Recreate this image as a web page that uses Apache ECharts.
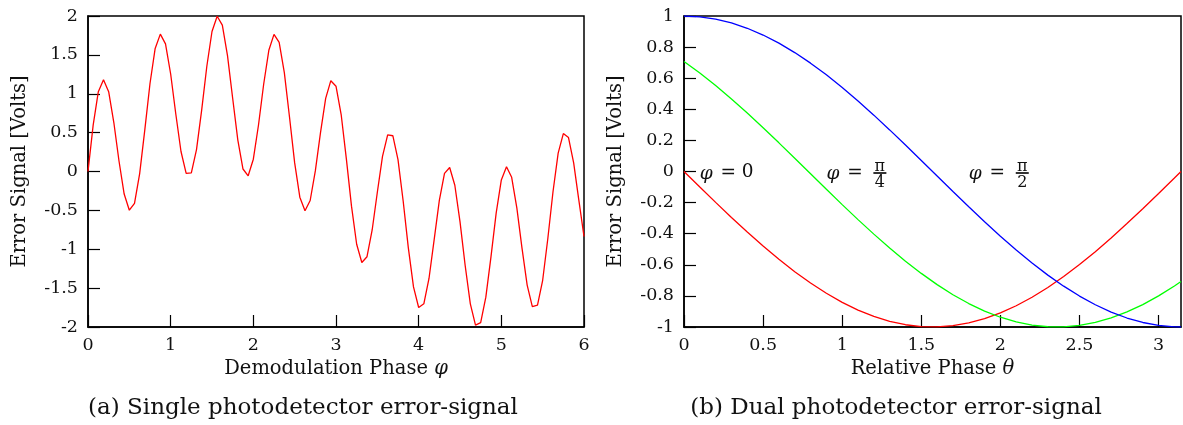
<!DOCTYPE html>
<html>
<head>
<meta charset="utf-8">
<script src="https://cdn.jsdelivr.net/npm/echarts@6/dist/echarts.min.js"></script>
<style>
html,body{margin:0;padding:0;background:#fff;}
#c{width:1183px;height:425px;}
</style>
</head>
<body>
<div id="c"></div>
<script>
// ---- Panel (a): single photodetector error signal ----
const phiA = [0,0.0625,0.125,0.1875,0.25,0.3125,0.375,0.4375,0.5,0.5625,0.625,0.6875,0.75,0.8125,0.875,0.9375,
  1,1.0625,1.125,1.1875,1.25,1.3125,1.375,1.4375,1.5,1.5625,1.625,1.6875,1.75,1.8125,1.875,1.9375,
  2,2.0625,2.125,2.1875,2.25,2.3125,2.375,2.4375,2.5,2.5625,2.625,2.6875,2.75,2.8125,2.875,2.9375,
  3,3.0625,3.125,3.1875,3.25,3.3125,3.375,3.4375,3.5,3.5625,3.625,3.6875,3.75,3.8125,3.875,3.9375,
  4,4.0625,4.125,4.1875,4.25,4.3125,4.375,4.4375,4.5,4.5625,4.625,4.6875,4.75,4.8125,4.875,4.9375,
  5,5.0625,5.125,5.1875,5.25,5.3125,5.375,5.4375,5.5,5.5625,5.625,5.6875,5.75,5.8125,5.875,5.9375,6];
const errA = [0,0.596,1.027,1.180,1.026,0.630,0.135,-0.290,-0.498,-0.409,-0.027,0.539,1.132,1.583,1.767,1.641,
  1.254,0.736,0.257,-0.025,-0.019,0.282,0.790,1.354,1.801,1.997,1.882,1.491,0.942,0.404,0.032,-0.055,
  0.158,0.598,1.122,1.559,1.764,1.662,1.272,0.701,0.110,-0.330,-0.504,-0.373,0.008,0.501,0.940,1.168,
  1.097,0.733,0.166,-0.446,-0.936,-1.170,-1.096,-0.752,-0.267,0.194,0.470,0.460,0.152,-0.379,-0.982,-1.484,
  -1.749,-1.702,-1.376,-0.877,-0.371,-0.024,0.051,-0.177,-0.644,-1.209,-1.702,-1.975,-1.944,-1.616,-1.094,-0.535,
  -0.108,0.060,-0.075,-0.467,-0.985,-1.461,-1.738,-1.719,-1.399,-0.862,-0.260,0.236,0.488,0.436,0.111,-0.369,-0.836];

// ---- Panel (b): dual photodetector error signal ----
const thetaB = [0,0.1,0.2,0.3,0.4,0.5,0.6,0.7,0.8,0.9,1.0,1.1,1.2,1.3,1.4,1.5,1.6,1.7,1.8,1.9,2.0,
  2.1,2.2,2.3,2.4,2.5,2.6,2.7,2.8,2.9,3.0,3.1,3.1416];
const errPhi0 = [0,-0.0998,-0.1987,-0.2955,-0.3894,-0.4794,-0.5646,-0.6442,-0.7174,-0.7833,-0.8415,-0.8912,
  -0.9320,-0.9636,-0.9854,-0.9975,-0.9996,-0.9917,-0.9738,-0.9463,-0.9093,-0.8632,-0.8085,-0.7457,-0.6755,
  -0.5985,-0.5155,-0.4274,-0.3350,-0.2392,-0.1411,-0.0416,0];
const errPhiQ = [0.7071,0.6330,0.5525,0.4665,0.3760,0.2816,0.1843,0.0853,-0.0146,-0.1143,-0.2130,-0.3094,
  -0.4028,-0.4922,-0.5766,-0.6553,-0.7275,-0.7923,-0.8492,-0.8977,-0.9372,-0.9673,-0.9878,-0.9984,-0.9991,
  -0.9897,-0.9704,-0.9415,-0.9031,-0.8557,-0.7998,-0.7359,-0.7071];
const errPhiH = [1,0.9950,0.9801,0.9553,0.9211,0.8776,0.8253,0.7648,0.6967,0.6216,0.5403,0.4536,0.3624,
  0.2675,0.1700,0.0707,-0.0292,-0.1288,-0.2272,-0.3233,-0.4161,-0.5048,-0.5885,-0.6663,-0.7374,-0.8011,
  -0.8569,-0.9041,-0.9422,-0.9710,-0.9900,-0.9991,-1];

// curve annotations: phi = 0, phi = pi/4, phi = pi/2
const annTheta = [0.1, 0.9, 1.8];
const annVal = [0, 0, 0];
const annNum = ['0', 'π', 'π'];
const annDen = ['', '4', '2'];

const captions = ['(a) Single photodetector error-signal', '(b) Dual photodetector error-signal'];
const xNames = ['Demodulation Phase {it|φ}', 'Relative Phase {it|θ}'];
const yName = 'Error Signal [Volts]';

const FONT = 'DejaVu Serif';
const TXT = '#111';

function pairs(xs, ys){ return xs.map((x,i)=>[x, ys[i]]); }

function xAx(idx, min, max, interval, name){
  return {
    type:'value', gridIndex: idx, min:min, max:max, interval:interval,
    name:name, nameLocation:'middle', nameGap:28,
    nameTextStyle:{fontFamily:FONT, fontSize:19.5, color:TXT,
      rich:{it:{fontFamily:FONT, fontSize:19.5, fontStyle:'italic', color:TXT}}},
    axisLine:{show:true, onZero:false, lineStyle:{color:'#000', width:1.5}},
    axisTick:{show:true, inside:true, length:12, lineStyle:{color:'#000', width:1.2}},
    axisLabel:{fontFamily:FONT, fontSize:17.5, color:TXT, margin:9, showMaxLabel: idx===0,
      formatter: v => (Math.abs(v/interval - Math.round(v/interval))<1e-6 ? String(+v.toFixed(2)) : '')},
    splitLine:{show:false}
  };
}
function yAx(idx, min, max, interval){
  return {
    type:'value', gridIndex: idx, min:min, max:max, interval:interval,
    name:yName, nameLocation:'middle', nameGap:58, nameRotate:90,
    nameTextStyle:{fontFamily:FONT, fontSize:19.5, color:TXT},
    axisLine:{show:true, onZero:false, lineStyle:{color:'#000', width:1.5}},
    axisTick:{show:true, inside:true, length:12, lineStyle:{color:'#000', width:1.2}},
    axisLabel:{fontFamily:FONT, fontSize:17.5, color:TXT, margin:10,
      formatter: v => String(+v.toFixed(2))},
    splitLine:{show:false}
  };
}

const chart = echarts.init(document.getElementById('c'), null, {renderer:'canvas'});
chart.setOption({
  animation:false,
  backgroundColor:'#fff',
  grid:[
    {left:88, top:16, width:496, height:311, show:true, borderColor:'#000', borderWidth:1.5, backgroundColor:'transparent'},
    {left:684, top:16, width:497, height:311, show:true, borderColor:'#000', borderWidth:1.5, backgroundColor:'transparent'}
  ],
  xAxis:[ xAx(0, 0, 6, 1, xNames[0]), xAx(1, 0, 3.14159, 0.5, xNames[1]) ],
  yAxis:[ yAx(0, -2, 2, 0.5), yAx(1, -1, 1, 0.2) ],
  series:[
    {type:'line', xAxisIndex:0, yAxisIndex:0, data:pairs(phiA, errA), showSymbol:false,
      lineStyle:{color:'#ff0000', width:1.3}, itemStyle:{color:'#ff0000'}},
    {type:'line', xAxisIndex:1, yAxisIndex:1, data:pairs(thetaB, errPhi0), showSymbol:false,
      lineStyle:{color:'#ff0000', width:1.3}},
    {type:'line', xAxisIndex:1, yAxisIndex:1, data:pairs(thetaB, errPhiQ), showSymbol:false,
      lineStyle:{color:'#00ff00', width:1.3}},
    {type:'line', xAxisIndex:1, yAxisIndex:1, data:pairs(thetaB, errPhiH), showSymbol:false,
      lineStyle:{color:'#0000ff', width:1.3}}
  ]
});

// Annotations positioned through the chart's own axes
const gfx = [
  {type:'text', x:303, y:397, style:{text:captions[0], fontFamily:FONT, fontSize:23, fill:TXT, textAlign:'center'}},
  {type:'text', x:896, y:397, style:{text:captions[1], fontFamily:FONT, fontSize:23, fill:TXT, textAlign:'center'}}
];
annTheta.forEach((t, i) => {
  const p = chart.convertToPixel({gridIndex:1}, [t, annVal[i]]);
  const px = p[0], py = p[1];
  gfx.push({type:'text', z:100, x:px, y:py+2.5, style:{text:'φ', fontFamily:FONT, fontSize:18.5, fontStyle:'italic',
    fill:TXT, textAlign:'left', textVerticalAlign:'middle'}});
  gfx.push({type:'text', z:100, x:px+28.5, y:py+2, style:{text:'=', fontFamily:FONT, fontSize:18.5,
    fill:TXT, textAlign:'center', textVerticalAlign:'middle'}});
  if (!annDen[i]) {
    gfx.push({type:'text', z:100, x:px+42, y:py+1, style:{text:annNum[i], fontFamily:FONT, fontSize:18.5,
      fill:TXT, textAlign:'left', textVerticalAlign:'middle'}});
  } else {
    gfx.push({type:'text', z:100, x:px+53.5, y:py-4.5, style:{text:annNum[i], fontFamily:FONT, fontSize:16,
      fill:TXT, textAlign:'center', textVerticalAlign:'middle'}});
    gfx.push({type:'line', z:100, shape:{x1:px+47, y1:Math.round(py)+1, x2:px+60, y2:Math.round(py)+1},
      style:{stroke:'#000', lineWidth:1.6}});
    gfx.push({type:'text', z:100, x:px+53.5, y:py+11, style:{text:annDen[i], fontFamily:FONT, fontSize:16,
      fill:TXT, textAlign:'center', textVerticalAlign:'middle'}});
  }
});
chart.setOption({graphic: gfx});
</script>
</body>
</html>
